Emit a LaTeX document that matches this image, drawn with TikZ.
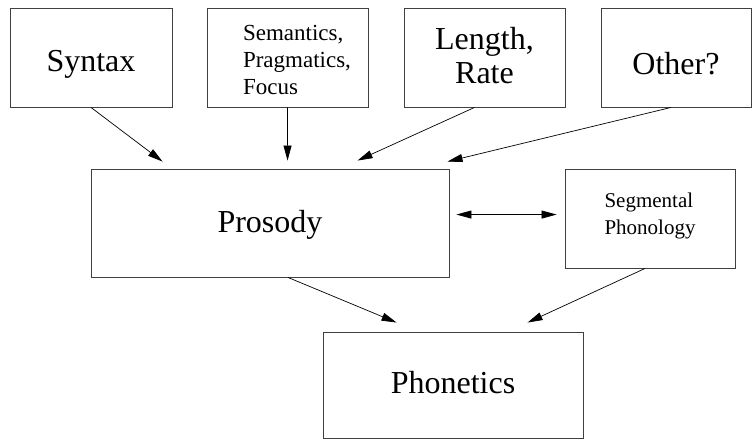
\documentclass[tikz,border=0pt]{standalone}
\usepackage{fontspec}
\setmainfont{Liberation Serif}
\usetikzlibrary{arrows.meta,calc}
\begin{document}
\begin{tikzpicture}[x=1pt,y=-1pt,
  box/.style={draw=black!75,line width=0.9pt,rectangle,inner sep=0pt},
  big/.style={font=\fontsize{32}{34}\selectfont,align=center},
  small/.style={font=\fontsize{23}{27}\selectfont,align=left},
  smaller/.style={font=\fontsize{21}{27}\selectfont,align=left},
  arr/.style={draw=black,line width=0.7pt,-{Triangle[length=15pt,width=8pt]}},
  arrb/.style={draw=black,line width=0.7pt,{Triangle[length=15pt,width=8pt]}-{Triangle[length=15pt,width=8pt]}}]
\useasboundingbox (0,0) rectangle (752,442);
\node[box,minimum width=162pt,minimum height=99pt,
  label={[name=synt,big,yshift=-7pt]center:Syntax}] (syn) at (91,57.5) {};
\node[box,minimum width=161pt,minimum height=99pt,
  label={[name=semt,small,yshift=-2pt,xshift=9.5pt]center:{Semantics,\\Pragmatics,\\Focus}}] (sem) at (287.5,57.5) {};
\node[box,minimum width=161pt,minimum height=99pt,
  label={[name=lent,big,yshift=2pt]center:{Length,\\Rate}}] (len) at (484.5,57.5) {};
\node[box,minimum width=150pt,minimum height=99pt,
  label={[name=otht,big,yshift=-6.5pt]center:Other?}] (oth) at (676,57.5) {};
\node[box,minimum width=358pt,minimum height=108pt,
  label={[name=prot,big,yshift=-2.3pt]center:Prosody}] (pro) at (270,223) {};
\node[box,minimum width=170pt,minimum height=99pt,
  label={[name=segt,smaller,yshift=3pt]center:{Segmental\\Phonology}}] (seg) at (650,218.5) {};
\node[box,minimum width=260pt,minimum height=106pt,
  label={[name=phot,big,yshift=2.5pt]center:Phonetics}] (pho) at (453,385) {};
\coordinate (t1) at ($(pro.north west)+(72,-7)$);
\coordinate (t2) at ($(pro.north west)+(197,-8)$);
\coordinate (t3) at ($(pro.north west)+(267,-8)$);
\coordinate (t4) at ($(pro.north west)+(357,-7)$);
\draw[arr] (syn.south) -- (t1);
\draw[arr] (sem.south) -- (t2);
\draw[arr] ($(len.south)+(-10,0)$) -- (t3);
\draw[arr] ($(oth.south)+(-5,0)$) -- (t4);
\coordinate (d1) at ($(pro.north east)+(7,46)$);
\coordinate (d2) at ($(seg.north west)+(-8,46)$);
\draw[arrb] (d1) -- (d2);
\coordinate (p1) at ($(pho.north west)+(74,-9)$);
\coordinate (p2) at ($(pho.north west)+(205,-9)$);
\draw[arr] ($(pro.south)+(18,0)$) -- (p1);
\draw[arr] ($(seg.south)+(-5,0)$) -- (p2);
\end{tikzpicture}
\end{document}
